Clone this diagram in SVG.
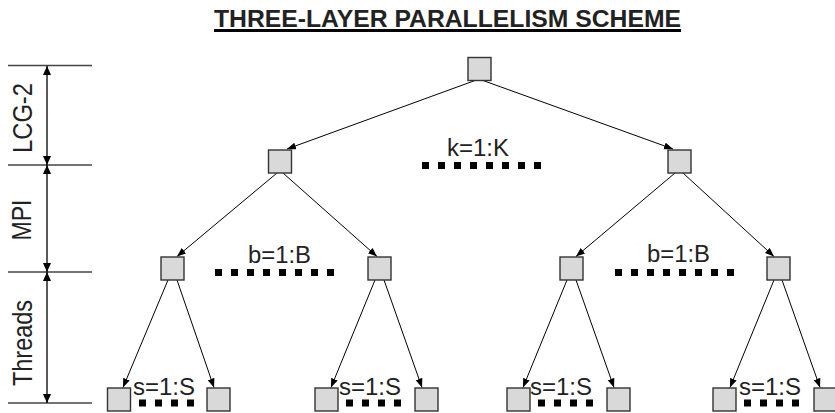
<svg xmlns="http://www.w3.org/2000/svg" width="835" height="413" viewBox="0 0 835 413">
  <defs>
    <marker id="arrow" markerUnits="userSpaceOnUse" markerWidth="10" markerHeight="8" refX="9" refY="3.5" orient="auto-start-reverse">
      <path d="M0,0 L9,3.5 L0,7 z" fill="#000"/>
    </marker>
    <marker id="arrowBig" markerUnits="userSpaceOnUse" markerWidth="10" markerHeight="10" refX="9" refY="4" orient="auto-start-reverse">
      <path d="M0,0 L9,4 L0,8 z" fill="#000"/>
    </marker>
  </defs>
  <style>
    .node rect { fill: #d9d9d9; stroke: #333; stroke-width: 1.4; }
    .edge { stroke: #000; stroke-width: 1; fill: none; marker-end: url(#arrow); }
    .tick { stroke: #444; stroke-width: 1.3; }
    .span { stroke: #000; stroke-width: 1.3; marker-start: url(#arrowBig); marker-end: url(#arrowBig); }
    .lbl { font-family: "Liberation Sans", Arial, sans-serif; font-size: 23.5px; fill: #222; }
    .layer { font-family: "Liberation Sans", Arial, sans-serif; font-size: 27px; fill: #222; }
    .dots { stroke: #000; stroke-width: 7; stroke-dasharray: 7 9; fill: none; }
    .title { font-family: "Liberation Sans", Arial, sans-serif; font-size: 24.5px; font-weight: bold; fill: #222; }
  </style>

  <rect width="835" height="413" fill="#fff"/>

  <!-- heading -->
  <g id="title">
    <text class="title" x="214" y="27" textLength="467" lengthAdjust="spacingAndGlyphs">THREE-LAYER PARALLELISM SCHEME</text>
    <rect x="214" y="29" width="467" height="3" fill="#000"/>
  </g>

  <!-- layer scale on the left -->
  <g id="scale">
    <line class="tick" x1="8" y1="65.5" x2="92" y2="65.5"/>
    <line class="tick" x1="8" y1="165" x2="92" y2="165"/>
    <line class="tick" x1="8" y1="272" x2="92" y2="272"/>
    <line class="tick" x1="8" y1="403" x2="92" y2="403"/>
    <line class="span" x1="47" y1="66" x2="47" y2="165"/>
    <line class="span" x1="47" y1="165" x2="47" y2="272"/>
    <line class="span" x1="47" y1="272" x2="47" y2="403"/>
    <text class="layer" transform="translate(32,118) rotate(-90)" text-anchor="middle" textLength="70" lengthAdjust="spacingAndGlyphs">LCG-2</text>
    <text class="layer" transform="translate(31,220) rotate(-90)" text-anchor="middle" textLength="41" lengthAdjust="spacingAndGlyphs">MPI</text>
    <text class="layer" transform="translate(32,343) rotate(-90)" text-anchor="middle" textLength="86" lengthAdjust="spacingAndGlyphs">Threads</text>
  </g>

  <!-- connectors -->
  <g id="connectors">
    <line class="edge" x1="475" y1="80.5" x2="287" y2="149"/>
    <line class="edge" x1="483" y1="80.5" x2="673" y2="149"/>

    <line class="edge" x1="277" y1="173" x2="177" y2="256.5"/>
    <line class="edge" x1="283" y1="173" x2="377" y2="256.5"/>
    <line class="edge" x1="675" y1="173" x2="576" y2="256.5"/>
    <line class="edge" x1="683" y1="173" x2="774" y2="256.5"/>

    <line class="edge" x1="168" y1="280" x2="123" y2="387.5"/>
    <line class="edge" x1="177" y1="280" x2="214" y2="387.5"/>
    <line class="edge" x1="375" y1="280" x2="331" y2="387.5"/>
    <line class="edge" x1="384" y1="280" x2="422" y2="387.5"/>
    <line class="edge" x1="567" y1="280" x2="523" y2="387.5"/>
    <line class="edge" x1="576" y1="280" x2="614" y2="387.5"/>
    <line class="edge" x1="774" y1="280" x2="730" y2="387.5"/>
    <line class="edge" x1="782" y1="280" x2="820" y2="387.5"/>
  </g>

  <!-- tree nodes -->
  <g id="root" class="node"><rect x="468" y="57.5" width="23" height="23"/></g>

  <g id="mpi-left" class="node"><rect x="268.5" y="150" width="23" height="23"/></g>
  <g id="mpi-right" class="node"><rect x="668" y="150" width="23" height="23"/></g>

  <g id="b-1" class="node"><rect x="161" y="257" width="23" height="23"/></g>
  <g id="b-2" class="node"><rect x="368" y="257" width="23" height="23"/></g>
  <g id="b-3" class="node"><rect x="560" y="257" width="23" height="23"/></g>
  <g id="b-4" class="node"><rect x="767" y="257" width="23" height="23"/></g>

  <g id="s-1" class="node"><rect x="107.5" y="388" width="23" height="23"/></g>
  <g id="s-2" class="node"><rect x="207" y="388" width="23" height="23"/></g>
  <g id="s-3" class="node"><rect x="315" y="388" width="23" height="23"/></g>
  <g id="s-4" class="node"><rect x="415" y="388" width="23" height="23"/></g>
  <g id="s-5" class="node"><rect x="507" y="388" width="23" height="23"/></g>
  <g id="s-6" class="node"><rect x="607" y="388" width="23" height="23"/></g>
  <g id="s-7" class="node"><rect x="713" y="388" width="23" height="23"/></g>
  <g id="s-8" class="node"><rect x="814" y="388" width="23" height="23"/></g>

  <!-- loop labels with ellipsis dots -->
  <g id="loop-k">
    <text class="lbl" x="447" y="156" textLength="62" lengthAdjust="spacingAndGlyphs">k=1:K</text>
    <line class="dots" x1="422" y1="165.5" x2="550" y2="165.5"/>
  </g>
  <g id="loop-b-left">
    <text class="lbl" x="248" y="263" textLength="63" lengthAdjust="spacingAndGlyphs">b=1:B</text>
    <line class="dots" x1="215" y1="272.5" x2="343" y2="272.5"/>
  </g>
  <g id="loop-b-right">
    <text class="lbl" x="647" y="262" textLength="63" lengthAdjust="spacingAndGlyphs">b=1:B</text>
    <line class="dots" x1="615" y1="272.5" x2="743" y2="272.5"/>
  </g>
  <g id="loop-s-1">
    <text class="lbl" x="133" y="395" textLength="62" lengthAdjust="spacingAndGlyphs">s=1:S</text>
    <line class="dots" x1="139" y1="403" x2="203" y2="403"/>
  </g>
  <g id="loop-s-2">
    <text class="lbl" x="339" y="395" textLength="62" lengthAdjust="spacingAndGlyphs">s=1:S</text>
    <line class="dots" x1="346" y1="403" x2="410" y2="403"/>
  </g>
  <g id="loop-s-3">
    <text class="lbl" x="530" y="395" textLength="62" lengthAdjust="spacingAndGlyphs">s=1:S</text>
    <line class="dots" x1="538" y1="403" x2="602" y2="403"/>
  </g>
  <g id="loop-s-4">
    <text class="lbl" x="739" y="395" textLength="62" lengthAdjust="spacingAndGlyphs">s=1:S</text>
    <line class="dots" x1="744" y1="403" x2="808" y2="403"/>
  </g>
</svg>
